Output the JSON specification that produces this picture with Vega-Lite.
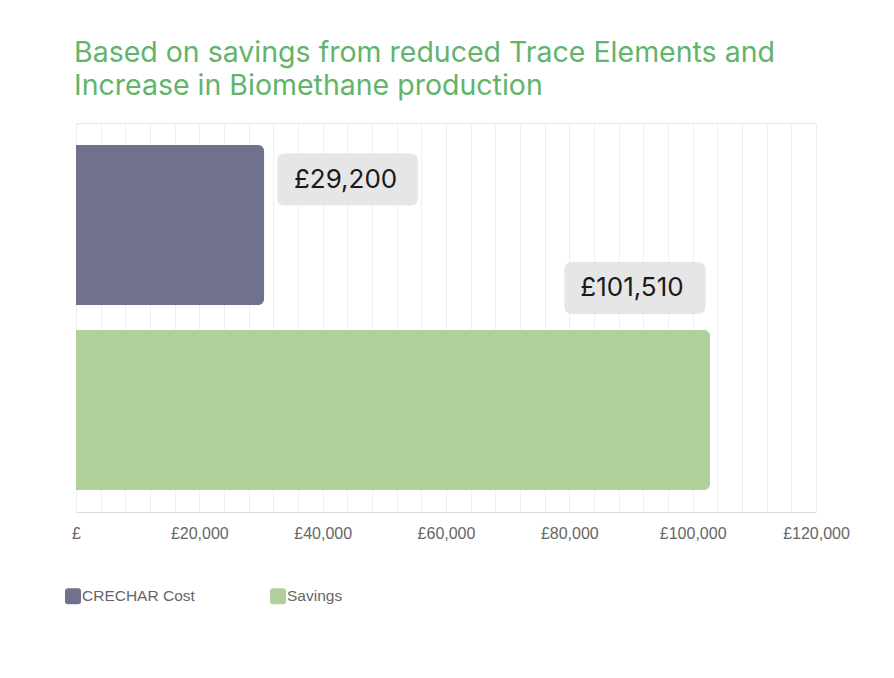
{
  "$schema": "https://vega.github.io/schema/vega-lite/v6.json",
  "autosize": {"type": "none"},
  "padding": {"left": 76, "top": 123, "right": 78, "bottom": 166},
  "width": 740,
  "height": 389,
  "background": "white",
  "config": {
    "locale": {
      "number": {"decimal": ".", "thousands": ",", "grouping": [3], "currency": ["£", ""]}
    },
    "view": {"stroke": "#e4e4e4", "strokeWidth": 1},
    "font": "Liberation Sans"
  },
  "title": {
    "text": ["Based on savings from reduced Trace Elements and", "Increase in Biomethane production"],
    "anchor": "start",
    "frame": "group",
    "font": "Inter",
    "fontSize": 28.5,
    "fontWeight": 400,
    "lineHeight": 33,
    "color": "#62b46b",
    "dx": -2,
    "offset": 23
  },
  "data": {
    "values": [
      {"Category": "CRECHAR Cost", "Amount": 29200},
      {"Category": "Savings", "Amount": 101510}
    ]
  },
  "encoding": {
    "x": {
      "field": "Amount",
      "type": "quantitative",
      "stack": null,
      "scale": {"domain": [0, 120000], "nice": false},
      "axis": {
        "title": null,
        "values": [0, 4000, 8000, 12000, 16000, 20000, 24000, 28000, 32000, 36000, 40000, 44000, 48000, 52000, 56000, 60000, 64000, 68000, 72000, 76000, 80000, 84000, 88000, 92000, 96000, 100000, 104000, 108000, 112000, 116000, 120000],
        "labelExpr": "datum.value == 0 ? '£' : (datum.value % 20000 == 0 ? format(datum.value, '$,') : '')",
        "labelOverlap": false,
        "labelFontSize": 16,
        "labelColor": "#666666",
        "labelPadding": 13,
        "labelFlush": false,
        "ticks": false,
        "grid": true,
        "gridColor": "#efefef",
        "domainColor": "#dddddd"
      }
    },
    "y": {
      "field": "Category",
      "type": "nominal",
      "sort": null,
      "scale": {"paddingInner": 0.135, "paddingOuter": 0.119},
      "axis": null
    }
  },
  "layer": [
    {
      "mark": {"type": "bar", "cornerRadiusTopRight": 6, "cornerRadiusBottomRight": 6, "xOffset": 8},
      "encoding": {
        "x2": {"datum": 0},
        "color": {
          "field": "Category",
          "type": "nominal",
          "scale": {"domain": ["CRECHAR Cost", "Savings"], "range": ["#6f718d", "#b0cf99"]},
          "legend": {
            "title": null,
            "orient": "none",
            "direction": "horizontal",
            "legendX": -11,
            "legendY": 465,
            "padding": 0,
            "symbolType": "M-0.625,-1 L0.625,-1 Q1,-1 1,-0.625 L1,0.625 Q1,1 0.625,1 L-0.625,1 Q-1,1 -1,0.625 L-1,-0.625 Q-1,-1 -0.625,-1 Z",
            "symbolSize": 256,
            "symbolStrokeWidth": 0,
            "symbolOpacity": 1,
            "labelFontSize": 15.5,
            "labelColor": "#666666",
            "labelOffset": 1,
            "columnPadding": 75
          }
        }
      }
    },
    {
      "transform": [{"filter": "datum.Category == 'CRECHAR Cost'"}],
      "mark": {
        "type": "point",
        "filled": true,
        "opacity": 1,
        "color": "#e6e6e6",
        "size": 19881,
        "shape": "M-0.887,-0.369 L0.887,-0.369 Q1,-0.369 1,-0.255 L1,0.255 Q1,0.369 0.887,0.369 L-0.887,0.369 Q-1,0.369 -1,0.255 L-1,-0.255 Q-1,-0.369 -0.887,-0.369 Z",
        "xOffset": 91.5,
        "yOffset": -45.5
      }
    },
    {
      "transform": [{"filter": "datum.Category == 'CRECHAR Cost'"}],
      "mark": {
        "type": "text",
        "font": "Inter",
        "fontSize": 26,
        "color": "#1a1a1a",
        "align": "center",
        "baseline": "middle",
        "dx": 89.5,
        "dy": -45.5
      },
      "encoding": {"text": {"field": "Amount", "type": "quantitative", "format": "$,"}}
    },
    {
      "transform": [{"filter": "datum.Category == 'Savings'"}],
      "mark": {
        "type": "point",
        "filled": true,
        "opacity": 1,
        "color": "#e6e6e6",
        "size": 19881,
        "shape": "M-0.887,-0.369 L0.887,-0.369 Q1,-0.369 1,-0.255 L1,0.255 Q1,0.369 0.887,0.369 L-0.887,0.369 Q-1,0.369 -1,0.255 L-1,-0.255 Q-1,-0.369 -0.887,-0.369 Z",
        "xOffset": -67,
        "yOffset": -122
      }
    },
    {
      "transform": [{"filter": "datum.Category == 'Savings'"}],
      "mark": {
        "type": "text",
        "font": "Inter",
        "fontSize": 26,
        "color": "#1a1a1a",
        "align": "center",
        "baseline": "middle",
        "dx": -70,
        "dy": -122
      },
      "encoding": {"text": {"field": "Amount", "type": "quantitative", "format": "$,"}}
    }
  ]
}
